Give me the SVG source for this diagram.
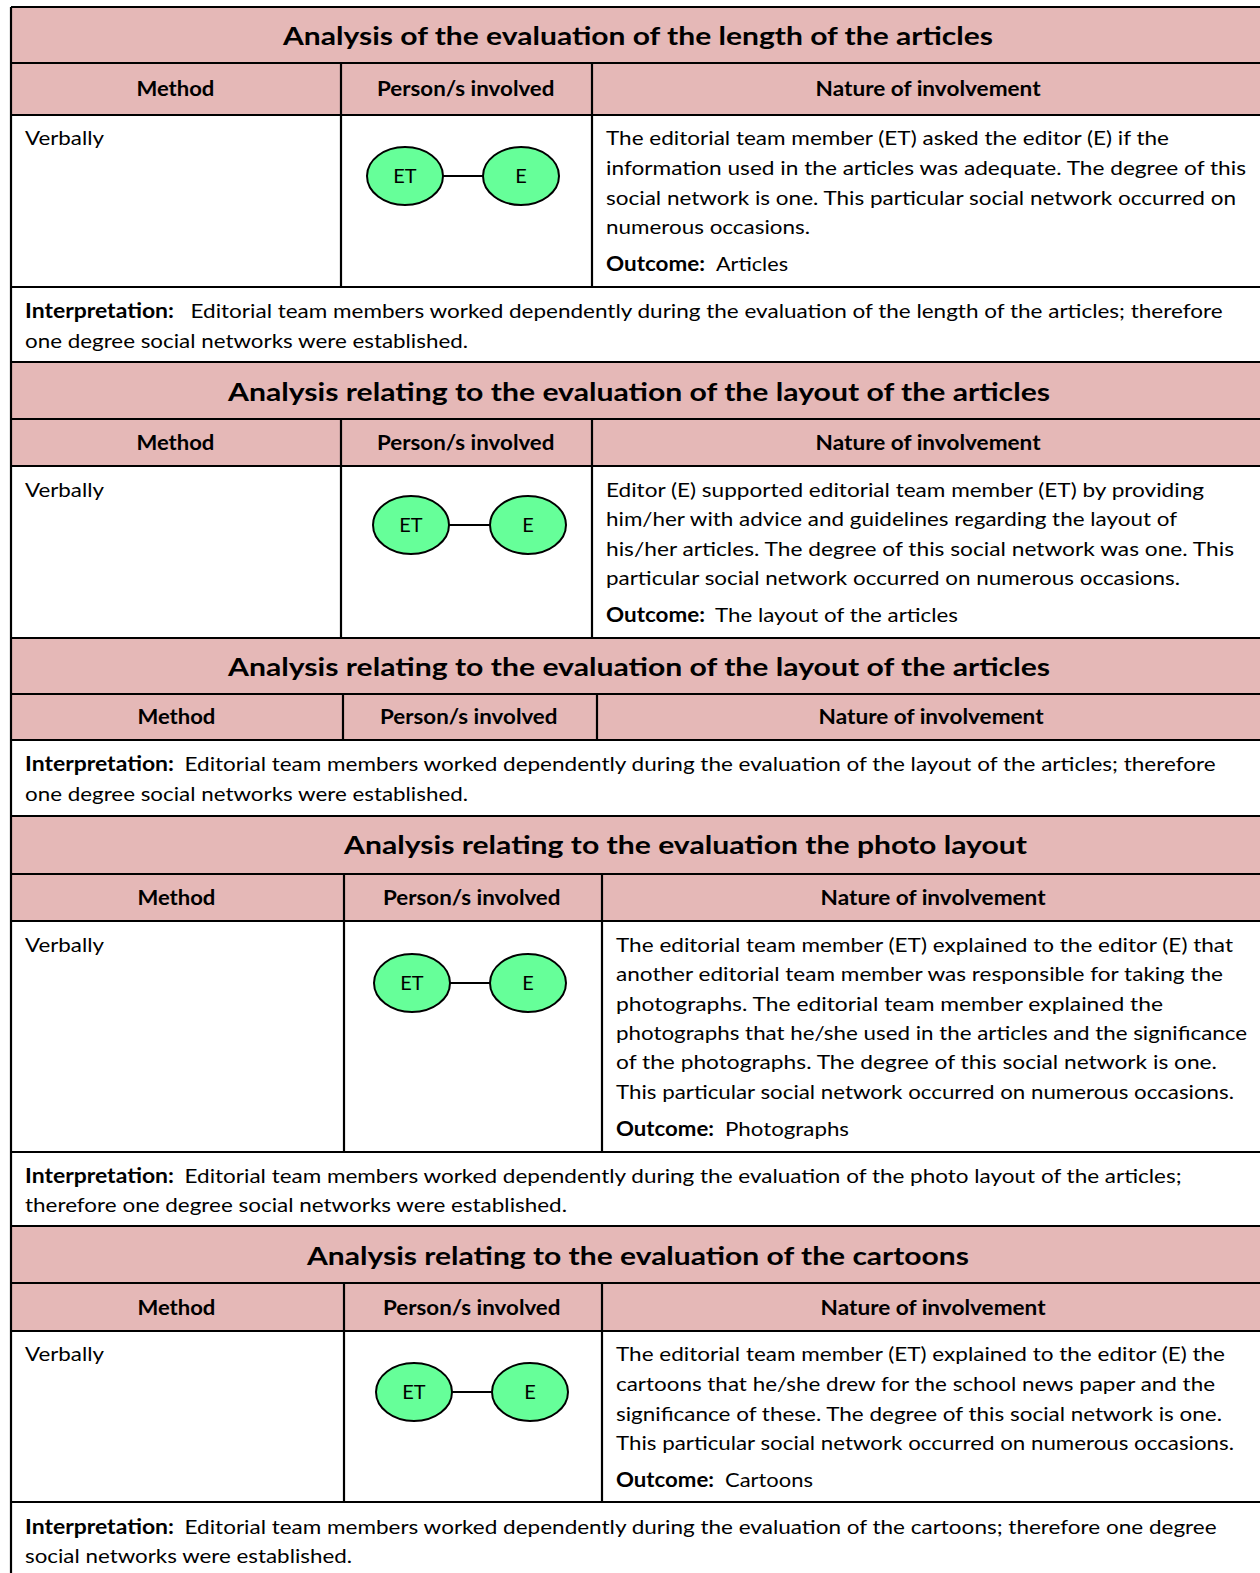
<svg xmlns="http://www.w3.org/2000/svg" width="1260" height="1573" viewBox="0 0 1260 1573">
  <style>
    text { font-family: Lato, "Open Sans", "Liberation Sans", sans-serif; fill: #000; }
    .t { font-size: 20px; }
    .b { font-size: 20px; font-weight: bold; }
    .h { font-size: 25px; font-weight: bold; }
    .n { font-size: 20px; text-anchor: middle; }
    .pink { fill: #E5B8B7; }
    .ln { stroke: #000; stroke-width: 2.2; fill: none; }
    .node { fill: #66FF99; stroke: #000; stroke-width: 2; }
    .edge { stroke: #000; stroke-width: 2; }
  </style>

  <rect width="1260" height="1573" fill="#fff"/>

  <!-- Shaded title and column-header bands -->
  <g id="bands">
    <rect class="pink" x="11" y="7" width="1260" height="56"/>
    <rect class="pink" x="11" y="63" width="1260" height="52"/>
    <rect class="pink" x="11" y="362" width="1260" height="57"/>
    <rect class="pink" x="11" y="419" width="1260" height="47"/>
    <rect class="pink" x="11" y="638" width="1260" height="56"/>
    <rect class="pink" x="11" y="694" width="1260" height="46"/>
    <rect class="pink" x="11" y="816" width="1260" height="58"/>
    <rect class="pink" x="11" y="874" width="1260" height="47"/>
    <rect class="pink" x="11" y="1226" width="1260" height="57"/>
    <rect class="pink" x="11" y="1283" width="1260" height="48"/>
  </g>

  <!-- Table rules -->
  <g id="grid" class="ln">
    <path d="M11 7 V1580"/>
    <path d="M11 7 H1270 M11 63 H1270 M11 115 H1270 M11 287 H1270 M11 362 H1270 M11 419 H1270 M11 466 H1270 M11 638 H1270 M11 694 H1270 M11 740 H1270 M11 816 H1270 M11 874 H1270 M11 921 H1270 M11 1152 H1270 M11 1226 H1270 M11 1283 H1270 M11 1331 H1270 M11 1502 H1270"/>
    <path d="M341 63 V287 M592 63 V287"/>
    <path d="M341 419 V638 M592 419 V638"/>
    <path d="M343 694 V740 M597 694 V740"/>
    <path d="M344 874 V1152 M602 874 V1152"/>
    <path d="M344 1283 V1502 M602 1283 V1502"/>
  </g>

  <!-- Section 1: length of the articles -->
  <g id="section-length">
    <text class="h" x="283" y="45" textLength="710" lengthAdjust="spacingAndGlyphs">Analysis of the evaluation of the length of the articles</text>
    <text class="b" x="136.4" y="96" textLength="78" lengthAdjust="spacingAndGlyphs">Method</text>
    <text class="b" x="377" y="96" textLength="177.5" lengthAdjust="spacingAndGlyphs">Person/s involved</text>
    <text class="b" x="815.6" y="96" textLength="225" lengthAdjust="spacingAndGlyphs">Nature of involvement</text>
    <text class="t" x="25" y="145" textLength="79" lengthAdjust="spacingAndGlyphs">Verbally</text>
    <text class="t" x="606" y="145" textLength="563" lengthAdjust="spacingAndGlyphs">The editorial team member (ET) asked the editor (E) if the</text>
    <text class="t" x="606" y="175" textLength="640" lengthAdjust="spacingAndGlyphs">information used in the articles was adequate.  The degree of this</text>
    <text class="t" x="606" y="204.5" textLength="630" lengthAdjust="spacingAndGlyphs">social network is one.  This particular social network occurred on</text>
    <text class="t" x="606" y="234" textLength="204" lengthAdjust="spacingAndGlyphs">numerous occasions.</text>
    <text class="b" x="606" y="271" textLength="99" lengthAdjust="spacingAndGlyphs">Outcome:</text>
    <text class="t" x="716" y="271" textLength="72" lengthAdjust="spacingAndGlyphs">Articles</text>
    <text class="b" x="25" y="318" textLength="149" lengthAdjust="spacingAndGlyphs">Interpretation:</text>
    <text class="t" x="190.6" y="318" textLength="1032" lengthAdjust="spacingAndGlyphs">Editorial team members worked dependently during the evaluation of the length of the articles; therefore</text>
    <text class="t" x="25" y="348" textLength="443" lengthAdjust="spacingAndGlyphs">one degree social networks were established.</text>
  </g>

  <!-- Section 2: layout of the articles -->
  <g id="section-layout">
    <text class="h" x="228" y="401" textLength="822" lengthAdjust="spacingAndGlyphs">Analysis relating to the evaluation of the layout of the articles</text>
    <text class="b" x="136.4" y="450" textLength="78" lengthAdjust="spacingAndGlyphs">Method</text>
    <text class="b" x="377" y="450" textLength="177.5" lengthAdjust="spacingAndGlyphs">Person/s involved</text>
    <text class="b" x="815.6" y="450" textLength="225" lengthAdjust="spacingAndGlyphs">Nature of involvement</text>
    <text class="t" x="25" y="497" textLength="79" lengthAdjust="spacingAndGlyphs">Verbally</text>
    <text class="t" x="606" y="497" textLength="598" lengthAdjust="spacingAndGlyphs">Editor (E) supported editorial team member (ET) by providing</text>
    <text class="t" x="606" y="526" textLength="571" lengthAdjust="spacingAndGlyphs">him/her with advice and guidelines regarding the layout of</text>
    <text class="t" x="606" y="556" textLength="628" lengthAdjust="spacingAndGlyphs">his/her articles.  The degree of this social network was one.  This</text>
    <text class="t" x="606" y="585" textLength="574" lengthAdjust="spacingAndGlyphs">particular social network occurred on numerous occasions.</text>
    <text class="b" x="606" y="622" textLength="99" lengthAdjust="spacingAndGlyphs">Outcome:</text>
    <text class="t" x="715" y="622" textLength="243" lengthAdjust="spacingAndGlyphs">The layout of the articles</text>
  </g>

  <!-- Section 3: layout of the articles, interpretation -->
  <g id="section-layout-summary">
    <text class="h" x="228" y="676" textLength="822" lengthAdjust="spacingAndGlyphs">Analysis relating to the evaluation of the layout of the articles</text>
    <text class="b" x="137.4" y="724" textLength="78" lengthAdjust="spacingAndGlyphs">Method</text>
    <text class="b" x="380" y="724" textLength="177.5" lengthAdjust="spacingAndGlyphs">Person/s involved</text>
    <text class="b" x="818.6" y="724" textLength="225" lengthAdjust="spacingAndGlyphs">Nature of involvement</text>
    <text class="b" x="25" y="771" textLength="149" lengthAdjust="spacingAndGlyphs">Interpretation:</text>
    <text class="t" x="184.6" y="771" textLength="1031" lengthAdjust="spacingAndGlyphs">Editorial team members worked dependently during the evaluation of the layout of the articles; therefore</text>
    <text class="t" x="25" y="801" textLength="443" lengthAdjust="spacingAndGlyphs">one degree social networks were established.</text>
  </g>

  <!-- Section 4: photo layout -->
  <g id="section-photo">
    <text class="h" x="344" y="854" textLength="683" lengthAdjust="spacingAndGlyphs">Analysis relating to the evaluation the photo layout</text>
    <text class="b" x="137.4" y="905" textLength="78" lengthAdjust="spacingAndGlyphs">Method</text>
    <text class="b" x="383" y="905" textLength="177.5" lengthAdjust="spacingAndGlyphs">Person/s involved</text>
    <text class="b" x="820.6" y="905" textLength="225" lengthAdjust="spacingAndGlyphs">Nature of involvement</text>
    <text class="t" x="25" y="952" textLength="79" lengthAdjust="spacingAndGlyphs">Verbally</text>
    <text class="t" x="616" y="952" textLength="617" lengthAdjust="spacingAndGlyphs">The editorial team member (ET) explained to the editor (E) that</text>
    <text class="t" x="616" y="981" textLength="607" lengthAdjust="spacingAndGlyphs">another editorial team member was responsible for taking the</text>
    <text class="t" x="616" y="1010.5" textLength="547" lengthAdjust="spacingAndGlyphs">photographs.  The editorial team member explained the</text>
    <text class="t" x="616" y="1040" textLength="631" lengthAdjust="spacingAndGlyphs">photographs that he/she used in the articles and the significance</text>
    <text class="t" x="616" y="1069" textLength="601" lengthAdjust="spacingAndGlyphs">of the photographs.   The degree of this social network is one.</text>
    <text class="t" x="616" y="1099" textLength="618" lengthAdjust="spacingAndGlyphs">This particular social network occurred on numerous occasions.</text>
    <text class="b" x="616" y="1136" textLength="98" lengthAdjust="spacingAndGlyphs">Outcome:</text>
    <text class="t" x="725" y="1136" textLength="124" lengthAdjust="spacingAndGlyphs">Photographs</text>
    <text class="b" x="25" y="1183" textLength="149" lengthAdjust="spacingAndGlyphs">Interpretation:</text>
    <text class="t" x="184.6" y="1183" textLength="997" lengthAdjust="spacingAndGlyphs">Editorial team members worked dependently during the evaluation of the photo layout of the articles;</text>
    <text class="t" x="25" y="1212" textLength="542" lengthAdjust="spacingAndGlyphs">therefore one degree social networks were established.</text>
  </g>

  <!-- Section 5: cartoons -->
  <g id="section-cartoons">
    <text class="h" x="307" y="1265" textLength="662" lengthAdjust="spacingAndGlyphs">Analysis relating to the evaluation of the cartoons</text>
    <text class="b" x="137.4" y="1315" textLength="78" lengthAdjust="spacingAndGlyphs">Method</text>
    <text class="b" x="383" y="1315" textLength="177.5" lengthAdjust="spacingAndGlyphs">Person/s involved</text>
    <text class="b" x="820.6" y="1315" textLength="225" lengthAdjust="spacingAndGlyphs">Nature of involvement</text>
    <text class="t" x="25" y="1361" textLength="79" lengthAdjust="spacingAndGlyphs">Verbally</text>
    <text class="t" x="616" y="1361" textLength="609" lengthAdjust="spacingAndGlyphs">The editorial team member (ET) explained to the editor (E) the</text>
    <text class="t" x="616" y="1391" textLength="599" lengthAdjust="spacingAndGlyphs">cartoons that he/she drew for the school news paper and the</text>
    <text class="t" x="616" y="1421" textLength="606" lengthAdjust="spacingAndGlyphs">significance of these.  The degree of this social network is one.</text>
    <text class="t" x="616" y="1450" textLength="618" lengthAdjust="spacingAndGlyphs">This particular social network occurred on numerous occasions.</text>
    <text class="b" x="616" y="1487" textLength="98" lengthAdjust="spacingAndGlyphs">Outcome:</text>
    <text class="t" x="725" y="1487" textLength="88" lengthAdjust="spacingAndGlyphs">Cartoons</text>
    <text class="b" x="25" y="1534" textLength="149" lengthAdjust="spacingAndGlyphs">Interpretation:</text>
    <text class="t" x="184.6" y="1534" textLength="1032" lengthAdjust="spacingAndGlyphs">Editorial team members worked dependently during the evaluation of the cartoons; therefore one degree</text>
    <text class="t" x="25" y="1563" textLength="327" lengthAdjust="spacingAndGlyphs">social networks were established.</text>
  </g>

  <!-- Connectors between ET and E -->
  <g id="connectors" class="edge">
    <line x1="443" y1="176" x2="483" y2="176"/>
    <line x1="449" y1="525" x2="490" y2="525"/>
    <line x1="450" y1="983" x2="490" y2="983"/>
    <line x1="452" y1="1392" x2="492" y2="1392"/>
  </g>

  <!-- Network nodes -->
  <g id="node-et-1"><ellipse class="node" cx="405" cy="176" rx="38" ry="29"/><text class="n" x="405" y="183">ET</text></g>
  <g id="node-e-1"><ellipse class="node" cx="521" cy="176" rx="38" ry="29"/><text class="n" x="521" y="183">E</text></g>
  <g id="node-et-2"><ellipse class="node" cx="411" cy="525" rx="38" ry="29"/><text class="n" x="411" y="532">ET</text></g>
  <g id="node-e-2"><ellipse class="node" cx="528" cy="525" rx="38" ry="29"/><text class="n" x="528" y="532">E</text></g>
  <g id="node-et-4"><ellipse class="node" cx="412" cy="983" rx="38" ry="29"/><text class="n" x="412" y="990">ET</text></g>
  <g id="node-e-4"><ellipse class="node" cx="528" cy="983" rx="38" ry="29"/><text class="n" x="528" y="990">E</text></g>
  <g id="node-et-5"><ellipse class="node" cx="414" cy="1392" rx="38" ry="29"/><text class="n" x="414" y="1399">ET</text></g>
  <g id="node-e-5"><ellipse class="node" cx="530" cy="1392" rx="38" ry="29"/><text class="n" x="530" y="1399">E</text></g>
</svg>
